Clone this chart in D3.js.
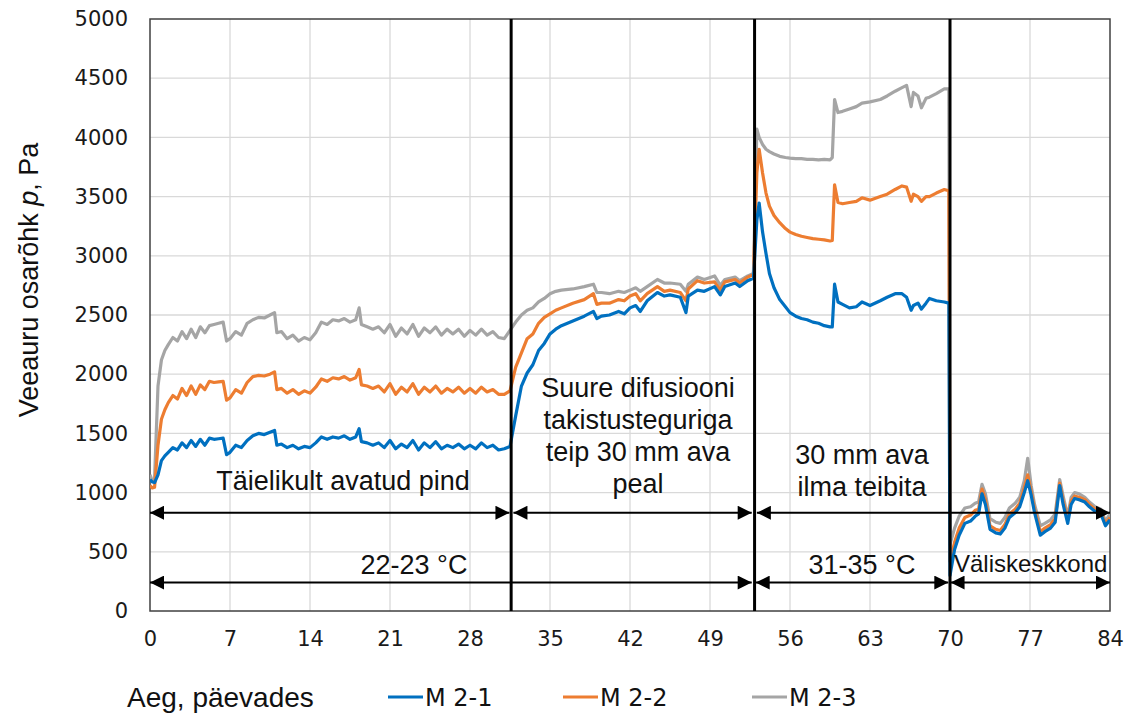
<!DOCTYPE html>
<html>
<head>
<meta charset="utf-8">
<script src="https://cdn.jsdelivr.net/npm/d3@7"></script>
<style>
  html, body { margin: 0; padding: 0; background: #fff; }
  svg { display: block; }
</style>
</head>
<body>
<svg id="chart" width="1129" height="715"></svg>
<script>
// Measurement time, days
const days = [
  0, 0.2, 0.4, 0.7, 1.0, 1.3, 1.6, 2.0, 2.4, 2.8, 3.2, 3.6, 4.0, 4.4, 4.8, 5.2, 5.6, 6.0, 6.4, 6.7,
  7.0, 7.5, 8.0, 8.5, 9.0, 9.5, 10.0, 10.5, 10.9, 11.1, 11.5, 12.0, 12.5, 13.0, 13.5, 14.0, 14.5, 15.0,
  15.5, 16.0, 16.5, 17.0, 17.5, 18.0, 18.3, 18.5, 19.0, 19.5, 20.0, 20.5, 21.0, 21.5, 22.0, 22.5, 23.0,
  23.5, 24.0, 24.5, 25.0, 25.5, 26.0, 26.5, 27.0, 27.5, 28.0, 28.5, 29.0, 29.5, 30.0, 30.5, 31.0, 31.5,
  32.0, 32.5, 33.0, 33.5, 34.0, 34.5, 35.0, 35.5, 36.0, 37.0, 38.0, 38.8, 39.1, 39.5, 40.2, 41.0, 41.5,
  42.0, 42.5, 42.9, 43.5, 44.4, 45.0, 45.5, 46.4, 46.9, 47.1, 47.9, 48.5, 49.4, 49.9, 50.3, 51.2, 51.6,
  52.3, 52.8,
  53.1, 53.3, 53.6, 53.9, 54.2, 54.6, 55.1, 55.6, 56.0, 56.5, 57.0, 57.5, 58.0, 58.5, 59.0, 59.5, 59.7,
  59.9, 60.2, 60.6, 61.2, 61.8, 62.3, 63.0, 63.9, 64.5, 65.2, 65.8, 66.2, 66.6, 66.8, 67.2, 67.5, 67.9,
  68.2, 68.8, 69.5, 69.9,
  70.0, 70.4, 70.8, 71.3, 71.8, 72.2, 72.5, 72.8, 73.1, 73.5, 74.0, 74.4, 74.8, 75.2, 75.7, 76.1, 76.5,
  76.8, 77.1, 77.4, 77.9, 78.3, 78.8, 79.2, 79.6, 79.9, 80.3, 80.6, 80.9, 81.3, 81.8, 82.2, 82.7, 83.2,
  83.6, 84.0
];

// Water vapour partial pressure, Pa
const m21 = [
  1110, 1090, 1085, 1150, 1270, 1310, 1340, 1380, 1360, 1420, 1380, 1440, 1390, 1450, 1400, 1460, 1450, 1455, 1460, 1320,
  1340, 1400, 1380, 1440, 1480, 1500, 1490, 1510, 1525, 1400, 1410, 1380, 1400, 1370, 1390, 1380, 1420, 1470,
  1450, 1470, 1460, 1480, 1450, 1470, 1540, 1430, 1420, 1400, 1420, 1380, 1440, 1370, 1410, 1380, 1440,
  1360, 1420, 1380, 1430, 1370, 1400, 1380, 1410, 1370, 1400, 1370, 1420, 1380, 1400, 1360, 1370, 1390,
  1650, 1900, 2010, 2080, 2200, 2260, 2340, 2380, 2410, 2450, 2490, 2530, 2470, 2490, 2500, 2530, 2510,
  2560, 2580, 2530, 2620, 2690, 2660, 2670, 2650, 2520, 2660, 2710, 2700, 2740, 2670, 2740, 2770, 2740,
  2790, 2810,
  3300, 3446, 3200, 3020, 2850, 2730, 2630, 2570, 2520, 2490, 2470, 2460, 2440, 2430, 2410, 2400, 2400,
  2760, 2610, 2590, 2560, 2570, 2610, 2580, 2620, 2650, 2680, 2680, 2650, 2540, 2580, 2600, 2550, 2600,
  2640, 2620, 2610, 2600,
  300, 520, 640, 740, 760, 800, 820, 990, 900, 690, 660, 650, 700, 790, 830, 880, 1000,
  1100, 980, 830, 640, 670, 700, 750, 1060, 900, 740, 900, 950, 940, 920, 880, 840, 820,
  720, 770
];

const m22 = [
  1060, 1040, 1045, 1400, 1620, 1700, 1760, 1820, 1790, 1880, 1820, 1900, 1830, 1910, 1870, 1940, 1930, 1935, 1940, 1780,
  1800, 1870, 1840, 1930, 1980, 1990, 1985, 2000, 2020, 1870, 1880, 1840, 1870, 1830, 1860, 1840, 1890, 1960,
  1940, 1970, 1960, 1980, 1950, 1970, 2040, 1910, 1900, 1880, 1900, 1850, 1920, 1830, 1890, 1850, 1920,
  1830, 1890, 1850, 1900, 1840, 1880, 1850, 1890, 1840, 1880, 1840, 1890, 1850, 1870, 1830, 1830, 1860,
  2060, 2180, 2300, 2340, 2430, 2480, 2510, 2540, 2560, 2600, 2630, 2680, 2590, 2600, 2600, 2630, 2620,
  2660, 2680, 2620, 2680, 2740, 2700, 2710, 2690, 2620, 2720, 2790, 2770, 2780, 2710, 2780, 2800, 2770,
  2820, 2840,
  3700, 3900, 3700, 3530, 3420, 3340, 3280, 3230, 3200, 3180, 3165, 3155, 3145, 3140, 3135, 3125, 3130,
  3600, 3450, 3440, 3450, 3460, 3490, 3470, 3500, 3520, 3560, 3590, 3580, 3460, 3520, 3500, 3460, 3500,
  3500, 3530, 3560, 3550,
  420, 580, 700, 790, 810, 850, 860, 1030, 940, 720, 690, 680, 730, 820, 860, 910, 1040,
  1150, 1010, 860, 670, 700, 730, 780, 1080, 930, 770, 930, 970, 960, 940, 900, 860, 840,
  740, 790
];

const m23 = [
  1150, 1100, 1120, 1900, 2120, 2200, 2250, 2310, 2280, 2360, 2300, 2380, 2310, 2400, 2350, 2410, 2420, 2430, 2440, 2280,
  2300, 2360, 2330, 2430, 2460, 2480, 2475, 2500, 2520, 2350, 2360, 2300, 2330, 2280, 2310, 2290, 2350, 2440,
  2420, 2460, 2450, 2470, 2440, 2460, 2560, 2420, 2400, 2380, 2400, 2350, 2420, 2320, 2390, 2340, 2420,
  2320, 2390, 2350, 2400, 2330, 2380, 2340, 2380, 2320, 2370, 2330, 2380, 2330, 2360, 2310, 2300, 2370,
  2440, 2500, 2540, 2560, 2610, 2640, 2680, 2700, 2710, 2720, 2740, 2760, 2690, 2690, 2680, 2700, 2690,
  2710, 2730, 2700, 2740, 2800, 2770, 2770, 2760, 2700, 2760, 2820, 2800, 2830, 2750, 2800, 2820, 2790,
  2830, 2850,
  4070, 4000, 3940, 3900, 3880, 3860, 3840, 3830, 3825, 3820, 3820, 3815, 3815, 3810, 3815, 3810, 3830,
  4320, 4210, 4220, 4240, 4260, 4290, 4300, 4320, 4350, 4390, 4420, 4440, 4260, 4380, 4350, 4250, 4330,
  4340, 4370, 4410, 4410,
  560, 700, 800, 870, 880, 910, 920, 1070, 990, 780, 750, 740, 790, 870, 910, 960, 1100,
  1290, 1060, 900, 720, 740, 770, 820, 1110, 970, 800, 960, 1000, 990, 960, 920, 880, 860,
  760, 820
];

const seriesNames = ["M 2-1", "M 2-2", "M 2-3"];
const seriesColors = ["#0070C0", "#ED7D31", "#A5A5A5"];

const xTicks = [0, 7, 14, 21, 28, 35, 42, 49, 56, 63, 70, 77, 84];
const yTicks = [0, 500, 1000, 1500, 2000, 2500, 3000, 3500, 4000, 4500, 5000];

// Boundaries between test phases, days
const phaseBreaks = [31.6, 52.9, 70];

// Phase span arrows: start day, end day, level (Pa)
const spanStart = [0, 31.8, 53.1, 0, 53.0, 70.05];
const spanEnd = [31.45, 52.65, 84, 52.65, 69.85, 84];
const spanRow = [830, 830, 830, 240, 240, 240];

const svg = d3.select("#chart");
const plot = { left: 150, right: 1110, top: 19, bottom: 611 };

const x = d3.scaleLinear().domain([0, 84]).range([plot.left, plot.right]);
const y = d3.scaleLinear().domain([0, 5000]).range([plot.bottom, plot.top]);

const defs = svg.append("defs");
defs.append("clipPath").attr("id", "plotClip")
  .append("rect")
  .attr("x", plot.left).attr("y", plot.top)
  .attr("width", plot.right - plot.left).attr("height", plot.bottom - plot.top);

// arrow heads
defs.append("marker").attr("id", "headEnd")
  .attr("viewBox", "0 0 10 10").attr("refX", 10).attr("refY", 5)
  .attr("markerUnits", "userSpaceOnUse")
  .attr("markerWidth", 15).attr("markerHeight", 14)
  .attr("orient", "auto")
  .append("path").attr("d", "M0,0 L10,5 L0,10 Z").attr("fill", "#000");
defs.append("marker").attr("id", "headStart")
  .attr("viewBox", "0 0 10 10").attr("refX", 0).attr("refY", 5)
  .attr("markerUnits", "userSpaceOnUse")
  .attr("markerWidth", 15).attr("markerHeight", 14)
  .attr("orient", "auto")
  .append("path").attr("d", "M10,0 L0,5 L10,10 Z").attr("fill", "#000");

// gridlines
const grid = svg.append("g");
grid.selectAll("line.h").data(yTicks.filter(d => d > 0 && d < 5000)).join("line")
  .attr("x1", plot.left).attr("x2", plot.right)
  .attr("y1", d => y(d)).attr("y2", d => y(d))
  .attr("stroke", "#d9d9d9").attr("stroke-width", 1.3);
grid.selectAll("line.v").data(xTicks.filter(d => d > 0 && d < 84)).join("line")
  .attr("y1", plot.top).attr("y2", plot.bottom)
  .attr("x1", d => x(d)).attr("x2", d => x(d))
  .attr("stroke", "#d9d9d9").attr("stroke-width", 1.3);

// plot frame
svg.append("rect")
  .attr("x", plot.left).attr("y", plot.top)
  .attr("width", plot.right - plot.left).attr("height", plot.bottom - plot.top)
  .attr("fill", "none").attr("stroke", "#404040").attr("stroke-width", 1.5);

// axes
const tickFont = "DejaVu Sans, Verdana, sans-serif";
const yAxis = d3.axisLeft(y).tickValues(yTicks).tickFormat(d3.format("d")).tickSize(0).tickPadding(22);
const gy = svg.append("g").attr("transform", `translate(${plot.left},0)`).call(yAxis);
gy.select(".domain").remove();
gy.selectAll("text").attr("font-family", tickFont)
  .attr("font-size", 21).attr("fill", "#1a1a1a");

const xAxis = d3.axisBottom(x).tickValues(xTicks).tickFormat(d3.format("d")).tickSize(0).tickPadding(20);
const gx = svg.append("g").attr("transform", `translate(0,${plot.bottom})`).call(xAxis);
gx.select(".domain").remove();
gx.selectAll("text").attr("font-family", tickFont)
  .attr("font-size", 21).attr("fill", "#1a1a1a");

// series
const allSeries = [m21, m22, m23];
const line = d3.line().x(d => x(d[0])).y(d => y(d[1]));
const lines = svg.append("g").attr("clip-path", "url(#plotClip)");
[2, 1, 0].forEach(i => {
  const pts = days.map((d, k) => [d, allSeries[i][k]]);
  lines.append("path")
    .attr("d", line(pts))
    .attr("fill", "none")
    .attr("stroke", seriesColors[i])
    .attr("stroke-width", 3.2)
    .attr("stroke-linejoin", "round");
});

// phase boundaries
svg.append("g").selectAll("line").data(phaseBreaks).join("line")
  .attr("x1", d => x(d)).attr("x2", d => x(d))
  .attr("y1", plot.top).attr("y2", plot.bottom)
  .attr("stroke", "#000").attr("stroke-width", 3);

// span arrows
svg.append("g").selectAll("line").data(spanStart.map((s, i) => i)).join("line")
  .attr("x1", i => x(spanStart[i])).attr("x2", i => x(spanEnd[i]))
  .attr("y1", i => y(spanRow[i])).attr("y2", i => y(spanRow[i]))
  .attr("stroke", "#000").attr("stroke-width", 2)
  .attr("marker-start", "url(#headStart)")
  .attr("marker-end", "url(#headEnd)");

// phase labels
const labelFont = "Liberation Sans, Arial, sans-serif";
const labels = svg.append("g").attr("font-family", labelFont).attr("fill", "#111")
  .attr("text-anchor", "middle");

function multiline(rows, cx, firstY, size, step) {
  const t = labels.append("text").attr("font-size", size);
  rows.forEach((s, i) => t.append("tspan").attr("x", cx).attr("y", firstY + i * step).text(s));
  return t;
}
multiline(["Täielikult avatud pind"], 343, 490, 27, 32);
multiline(["22-23 °C"], 414, 574, 27, 32);
multiline(["Suure difusiooni", "takistusteguriga", "teip 30 mm ava", "peal"], 638, 397, 27, 32);
multiline(["30 mm ava", "ilma teibita"], 862, 464, 27, 32);
multiline(["31-35 °C"], 862, 574, 27, 32);
labels.append("text").attr("clip-path", "url(#plotClip)")
  .attr("text-anchor", "start").attr("x", 954).attr("y", 572)
  .attr("font-size", 24).text("Väliskeskkond");

// axis titles
const yTitle = svg.append("text")
  .attr("transform", "translate(38,280) rotate(-90)")
  .attr("text-anchor", "middle")
  .attr("font-family", labelFont).attr("font-size", 27).attr("fill", "#111");
yTitle.append("tspan").text("Veeauru osarõhk ");
yTitle.append("tspan").attr("font-style", "italic").text("p");
yTitle.append("tspan").text(", Pa");

svg.append("text").attr("x", 127).attr("y", 707)
  .attr("font-family", labelFont).attr("font-size", 28).attr("fill", "#111")
  .text("Aeg, päevades");

// legend
const legendX = [388, 563, 752];
const legend = svg.append("g");
seriesNames.forEach((name, i) => {
  legend.append("line")
    .attr("x1", legendX[i]).attr("x2", legendX[i] + 35)
    .attr("y1", 697).attr("y2", 697)
    .attr("stroke", seriesColors[i]).attr("stroke-width", 3);
  legend.append("text")
    .attr("x", legendX[i] + 37).attr("y", 706)
    .attr("font-family", tickFont)
    .attr("font-size", 24).attr("fill", "#111")
    .text(name);
});
</script>
</body>
</html>
